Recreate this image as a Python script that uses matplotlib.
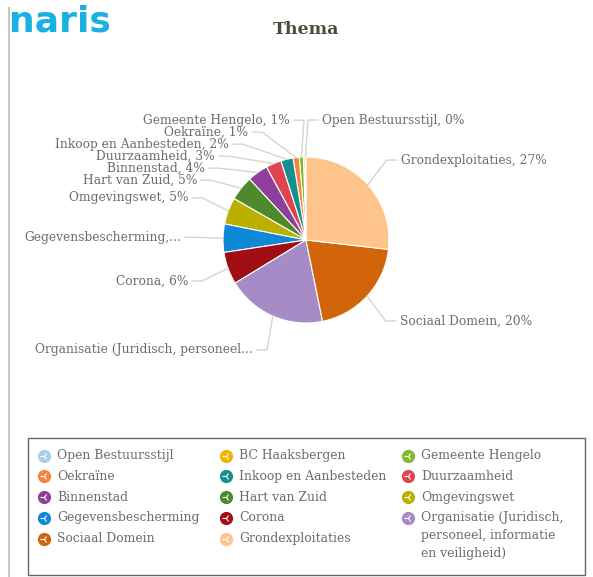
import numpy as np
import matplotlib.pyplot as plt
from matplotlib.patches import Rectangle

# ---------------------------------------------------------
# Data (order = legend order, drawn counter-clockwise from the top)
# ---------------------------------------------------------
themes = ['Open Bestuursstijl', 'BC Haaksbergen', 'Gemeente Hengelo', 'Oekraïne',
          'Inkoop en Aanbesteden', 'Duurzaamheid', 'Binnenstad', 'Hart van Zuid',
          'Omgevingswet', 'Gegevensbescherming', 'Corona',
          'Organisatie (Juridisch,\npersoneel, informatie\nen veiligheid)',
          'Sociaal Domein', 'Grondexploitaties']
pie_labels = ['Open Bestuursstijl', None, 'Gemeente Hengelo', 'Oekraïne',
              'Inkoop en Aanbesteden', 'Duurzaamheid', 'Binnenstad', 'Hart van Zuid',
              'Omgevingswet', 'Gegevensbescherming,...', 'Corona',
              'Organisatie (Juridisch, personeel...', 'Sociaal Domein', 'Grondexploitaties']
shares = [0.2, 0.3, 0.8, 1.2, 2.4, 3.0, 4.0, 4.8, 5.2, 5.5, 6.3, 19.5, 20.0, 26.8]
colors = ['#a6cfea', '#f2b400', '#7fbb2a', '#f5843c', '#178f8f', '#df4550', '#8e3f9b',
          '#4e8a2c', '#bbb000', '#0f88d6', '#a00d12', '#a68bc6', '#d2640a', '#fdc58c']

W, H = 593, 577
CX, CY, R = 306, 240, 83          # pie centre / radius in pixels
R_LAB = 120                       # label radius in pixels
TXT = '#6e6e68'
SERIF = 'DejaVu Serif'

fig = plt.figure(figsize=(W / 100, H / 100), dpi=100)

# pie axes: 1 data unit = R pixels
ax = fig.add_axes([(CX - R) / W, (H - CY - R) / H, 2 * R / W, 2 * R / H])
wedges, _ = ax.pie(shares, colors=colors, startangle=90, counterclock=True,
                   wedgeprops=dict(edgecolor='white', linewidth=0.8))
ax.set_xlim(-1, 1)
ax.set_ylim(-1, 1)
ax.set_aspect('equal')

# overlay axes in pixel coordinates
ov = fig.add_axes([0, 0, 1, 1])
ov.set_xlim(0, W)
ov.set_ylim(H, 0)
ov.axis('off')

# page border + logo + title
ov.plot([9, 9], [8, H], color='#c8c8c8', lw=1.5)
ov.text(9, 31, 'naris', color='#19b1e1', fontsize=26, fontweight='bold',
        family='DejaVu Sans', va='baseline', ha='left')
ov.text(CX, 29, 'Thema', color='#4b4b3e', fontsize=12.5, fontweight='bold',
        family=SERIF, ha='center', va='center')

# ---------------------------------------------------------
# Data labels with connectors (Highcharts-like stacking)
# ---------------------------------------------------------
total = sum(shares)
items = {'left': [], 'right': []}
for w, lab, val in zip(wedges, pie_labels, shares):
    if lab is None:
        continue
    phi = np.deg2rad((w.theta1 + w.theta2) / 2)
    side = 'right' if np.cos(phi) > -0.02 else 'left'
    dy = float(np.clip(-R_LAB * np.sin(phi), -R_LAB, R_LAB))
    if not lab.endswith('...'):
        lab = f'{lab}, {round(val / total * 100)}%'
    items[side].append([dy, phi, lab])

for side, lst in items.items():
    lst.sort(key=lambda t: t[0])
    prev = -1e9
    for it in lst:
        it[0] = max(it[0], prev + 12)
        prev = it[0]
    s = 1 if side == 'right' else -1
    for dy, phi, lab in lst:
        xoff = max(np.sqrt(max(R_LAB ** 2 - dy ** 2, 0)) + 5, 16)
        tx = CX + s * xoff
        ty = CY + dy
        ex, ey = CX + R * np.cos(phi), CY - R * np.sin(phi)
        ov.plot([ex, tx - s * 14, tx - s * 4], [ey, ty, ty], color='#d6d6c8', lw=1)
        ov.text(tx, ty, lab, color=TXT, fontsize=8.8, family=SERIF,
                ha='left' if s > 0 else 'right', va='center')

# ---------------------------------------------------------
# Legend (3 columns, row-wise)
# ---------------------------------------------------------
ov.add_patch(Rectangle((28, 438), 557, 137, fill=False, edgecolor='#666666', lw=1))
col_x = [44, 226, 408]
row_y0, row_dy = 455.5, 20.8
for i, (name, c) in enumerate(zip(themes, colors)):
    x = col_x[i % 3]
    y = row_y0 + (i // 3) * row_dy
    ov.plot(x, y, 'o', color=c, markersize=8.5)
    ov.plot(x, y, marker='3', color='white', markersize=5.5, mew=0.8)
    ov.text(x + 13, y - 6.5, name, color=TXT, fontsize=8.9, family=SERIF,
            ha='left', va='top', linespacing=1.5)

fig.savefig('out.png', dpi=100)
